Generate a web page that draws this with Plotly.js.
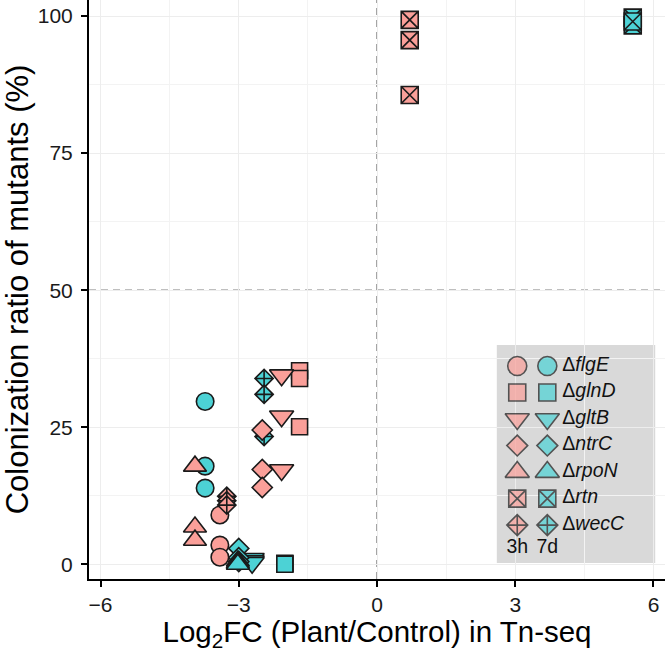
<!DOCTYPE html>
<html>
<head>
<meta charset="utf-8">
<script src="https://cdn.plot.ly/plotly-3.0.1.min.js"></script>
<style>
  html, body { margin: 0; padding: 0; background: #fff; }
  #chart { width: 667px; height: 652px; }
</style>
</head>
<body>
<div id="chart"></div>
<script>
// mutants and sampling times
const genes = ['flgE', 'glnD', 'gltB', 'ntrC', 'rpoN', 'rtn', 'wecC'];
const times = ['3h', '7d'];

// Tn-seq log2FC per gene at each time
const log2fc3h = [-3.41, -1.68, -2.07, -2.49, -3.95, 0.71, -3.26];
const log2fc7d = [-3.73, -2.00, -2.71, -3.00, -3.02, 5.55, -2.45];

// colonization ratio (%) of the replicates
const ratio3h = [
  [9.0, 3.5, 1.3],
  [35.3, 33.9, 25.1],
  [34.5, 27.0, 17.2],
  [24.5, 17.3, 14.0],
  [17.9, 6.8, 4.4],
  [99.3, 95.6, 85.6],
  [12.4, 11.6, 10.8]
];
const ratio7d = [
  [29.7, 17.9, 13.9],
  [0.2, 0.1, 0.0],
  [1.0, 0.6, 0.3],
  [2.9, 1.2, 0.5],
  [0.6, 0.3, 0.0],
  [99.7, 98.3, 99.0],
  [33.9, 31.0, 23.3]
];

const xTicks = [-6, -3, 0, 3, 6];
const yTicks = [0, 25, 50, 75, 100];
const cutoffFC = 0;
const cutoffRatio = 50;

// styling
const geneSymbols = ['circle', 'square', 'triangle-down', 'diamond', 'triangle-up', 'square-x', 'diamond-cross'];
const geneSizes = [17.5, 16, 21, 15.5, 20, 17, 14];
const keySizes = [19, 17, 21, 16, 21, 17, 16];
const timeColors = ['#FA9F99', '#4CD2D5'];
const edge = '#1a1a1a';
const fontFam = '"Liberation Sans", Arial, sans-serif';

const fcByTime = [log2fc3h, log2fc7d];
const ratioByTime = [ratio3h, ratio7d];

// which mark sits on top of which, as in the figure
const drawOrder = [
  [1, 0], [0, 1], [0, 2], [1, 1], [1, 2], [1, 3], [1, 4], [1, 5], [1, 6],
  [0, 0], [0, 3], [0, 4], [0, 5], [0, 6]
];

const traces = drawOrder.map(([t, g]) => {
  const ys = ratioByTime[t][g];
  return {
    type: 'scatter', mode: 'markers',
    x: ys.map(() => fcByTime[t][g]),
    y: ys,
    name: genes[g] + ' ' + times[t],
    hoverinfo: 'x+y+name',
    marker: {
      symbol: geneSymbols[g], size: geneSizes[g], color: timeColors[t],
      line: { color: edge, width: 1.6 }
    },
    xaxis: 'x', yaxis: 'y'
  };
});

// hand-built key in the lower right, on its own axes
const rows = genes.map((g, i) => i);
times.forEach((t, ti) => {
  traces.push({
    type: 'scatter', mode: 'markers',
    x: genes.map(() => ti), y: rows,
    hoverinfo: 'skip',
    marker: {
      symbol: geneSymbols, size: keySizes, color: timeColors[ti],
      line: { color: edge, width: 1.6 }
    },
    xaxis: 'x2', yaxis: 'y2'
  });
});
traces.push({
  type: 'scatter', mode: 'text',
  x: genes.map(() => times.length - 0.5), y: rows,
  text: genes.map(g => 'Δ<i>' + g + '</i>'),
  textposition: 'middle right',
  textfont: { family: fontFam, size: 19.5, color: '#111' },
  hoverinfo: 'skip', xaxis: 'x2', yaxis: 'y2'
});
traces.push({
  type: 'scatter', mode: 'text',
  x: times.map((t, i) => i), y: times.map(() => genes.length - 0.15),
  text: times,
  textposition: 'middle center',
  textfont: { family: fontFam, size: 19.5, color: '#111' },
  hoverinfo: 'skip', xaxis: 'x2', yaxis: 'y2'
});

const layout = {
  width: 667, height: 652,
  margin: { l: 89, r: 2, t: 0, b: 73 },
  paper_bgcolor: '#fff', plot_bgcolor: 'rgba(0,0,0,0)',
  showlegend: false,
  font: { family: fontFam, color: '#000' },
  xaxis: {
    range: [-6.25, 6.25], tickvals: xTicks, zeroline: false,
    showgrid: true, gridcolor: '#EDEDED', gridwidth: 1,
    minor: { dtick: 1.5, showgrid: true, gridcolor: '#F3F3F3', gridwidth: 1 },
    showline: true, linecolor: '#000', linewidth: 2,
    ticks: 'outside', ticklen: 6, tickwidth: 2, tickcolor: '#000',
    tickfont: { size: 21, color: '#1a1a1a' }, ticklabelstandoff: 0,
    title: { text: 'Log<sub>2</sub>FC (Plant/Control) in Tn-seq', font: { size: 29.5 }, standoff: 12 },
    automargin: false
  },
  yaxis: {
    range: [-2.68, 102.92], tickvals: yTicks, zeroline: false,
    showgrid: true, gridcolor: '#EDEDED', gridwidth: 1,
    minor: { dtick: 12.5, showgrid: true, gridcolor: '#F3F3F3', gridwidth: 1 },
    showline: true, linecolor: '#000', linewidth: 2,
    ticks: 'outside', ticklen: 6, tickwidth: 2, tickcolor: '#000',
    tickfont: { size: 21, color: '#1a1a1a' }, ticklabelstandoff: 4,
    title: { text: 'Colonization ratio of mutants (%)', font: { size: 31 }, standoff: 10 },
    automargin: false
  },
  xaxis2: {
    domain: [0.708, 0.983], range: [-0.68, 4.59], anchor: 'y2',
    visible: false, fixedrange: true
  },
  yaxis2: {
    domain: [0.0276, 0.404], range: [7.43, -0.79], anchor: 'x2',
    visible: false, fixedrange: true
  },
  shapes: [
    {
      type: 'line', xref: 'x', yref: 'y domain', x0: cutoffFC, x1: cutoffFC, y0: 0, y1: 1,
      line: { color: '#808080', width: 1.4, dash: '7px,5px' }, layer: 'below'
    },
    {
      type: 'line', xref: 'x domain', yref: 'y', x0: 0, x1: 1, y0: cutoffRatio, y1: cutoffRatio,
      line: { color: '#808080', width: 1.4, dash: '7px,5px' }, layer: 'below'
    },
    {
      type: 'rect', xref: 'x2 domain', yref: 'y2 domain', x0: 0, x1: 1, y0: 0, y1: 1,
      fillcolor: '#D9D9D9', line: { width: 0 }, layer: 'below'
    }
  ]
};

Plotly.newPlot('chart', traces, layout, { displayModeBar: false, staticPlot: true });
</script>
</body>
</html>
